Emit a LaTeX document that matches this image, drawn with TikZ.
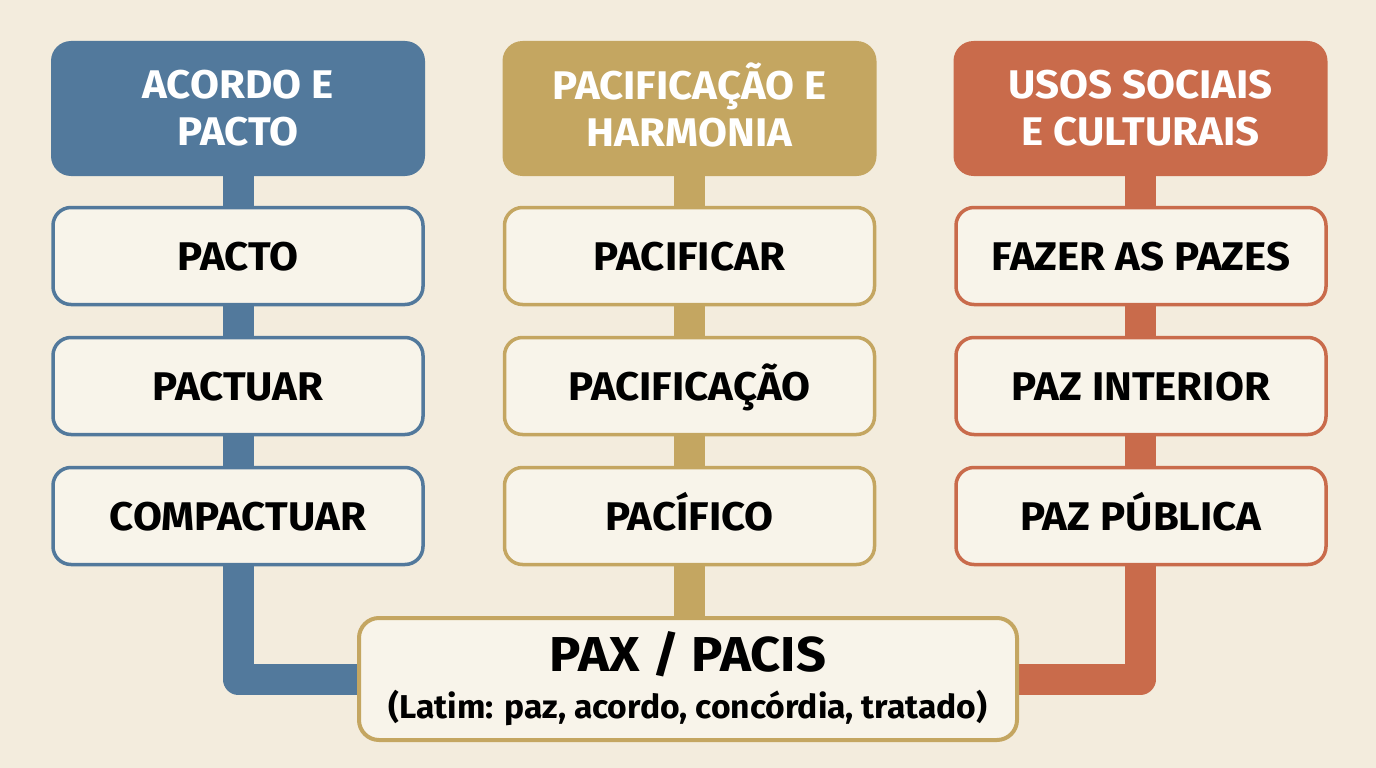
\documentclass[tikz,border=0pt]{standalone}
\usepackage{fontspec}
\setmainfont{Fira Sans}
\newfontfamily\itemfont{Fira Sans Bold}[FakeStretch=1.05]
\newfontfamily\paxfont{Fira Sans Bold}[FakeStretch=1.07]
\newfontfamily\subfont{Fira Sans Bold}[FakeStretch=1.02]
\usetikzlibrary{positioning}
\pgfdeclarelayer{paperlayer}
\pgfdeclarelayer{bg}
\pgfsetlayers{paperlayer,bg,main}
\definecolor{paper}{HTML}{F3ECDD}
\definecolor{boxfill}{HTML}{F8F4EA}
\definecolor{cblue}{HTML}{52799C}
\definecolor{cgold}{HTML}{C4A661}
\definecolor{cred}{HTML}{C96B4B}
\tikzset{
  header/.style={fill=#1, draw=none, rounded corners=20pt, minimum width=374pt, minimum height=135pt,
    text=white, align=center, font=\fontsize{40}{47}\itemfont, inner sep=0pt},
  item/.style={fill=boxfill, draw=#1, line width=3.5pt, rounded corners=18pt, minimum width=370pt,
    minimum height=97pt, text=black, font=\fontsize{40}{47}\itemfont, inner sep=0pt,
    text height=29pt, text depth=0pt},
  stem/.style={draw=#1, line width=31pt, line join=round, line cap=butt},
}
\begin{document}
\begin{tikzpicture}[x=1pt,y=-1pt]
\begin{pgfonlayer}{paperlayer}
\fill[paper] (0,0) rectangle (1376,768);
\end{pgfonlayer}
\useasboundingbox (0,0) rectangle (1376,768);

% headers
\node[header=cblue] (h1) at (238,108.5) {ACORDO E\\PACTO};
\node[header=cgold] (h2) at (689.5,108.5) {\smash{PACIFICAÇÃO E}\rule{0pt}{29pt}\\HARMONIA};
\node[header=cred]  (h3) at (1140.5,108.5) {USOS SOCIAIS\\E CULTURAIS};

% items
\node[item=cblue] (a1) at (238,256) {PACTO};
\node[item=cblue] (a2) at (238,386) {PACTUAR};
\node[item=cblue] (a3) at (238,516) {COMPACTUAR};
\node[item=cgold] (b1) at (689.5,256) {PACIFICAR};
\node[item=cgold] (b2) at (689.5,386) {PACIFICAÇÃO};
\node[item=cgold] (b3) at (689.5,516) {PACÍFICO};
\node[item=cred]  (c1) at (1141,256) {FAZER AS PAZES};
\node[item=cred]  (c2) at (1141,386) {PAZ INTERIOR};
\node[item=cred]  (c3) at (1141,516) {PAZ PÚBLICA};

% root
\node[fill=boxfill, draw=cgold, line width=4pt, rounded corners=20pt, minimum width=658pt,
  minimum height=122pt, inner sep=0pt, align=center] (pax) at (688,679)
  {{\fontsize{49}{52}\paxfont\rule{0pt}{39pt}PAX / PACIS}\\[12pt]
   {\fontsize{33}{36}\subfont (Latim: paz, acordo, concórdia, tratado)}};

\begin{pgfonlayer}{bg}
\draw[stem=cblue] (h1.center) |- (pax.west);
\draw[stem=cgold] (h2.center) -- (h2.center |- pax.center);
\draw[stem=cred] (h3.center) |- (pax.east);
\end{pgfonlayer}
\end{tikzpicture}
\end{document}
